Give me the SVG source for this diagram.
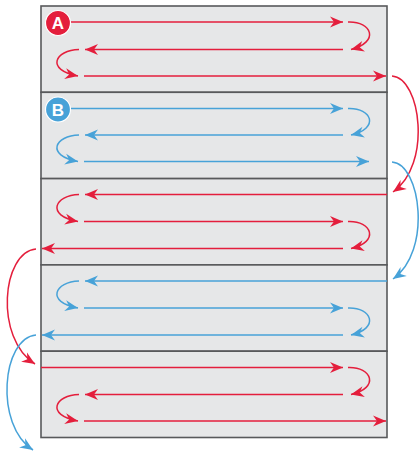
<svg xmlns="http://www.w3.org/2000/svg" width="419" height="455" viewBox="0 0 419 455">
<style>
.panel{fill:#e6e7e8;stroke:#58595b;stroke-width:1.6}
.r{fill:none;stroke:#e41e3c;stroke-width:1.5}
.b{fill:none;stroke:#47a2d8;stroke-width:1.5}
.r.a{marker-end:url(#ar)}
.b.a{marker-end:url(#ab)}
.badge{stroke:#ffffff;stroke-width:1.2}
.lbl{font-family:"Liberation Sans",Arial,sans-serif;font-weight:bold;font-size:17px;fill:#ffffff;text-anchor:middle}
</style>
<defs>
<marker id="ar" viewBox="-14 -6 15 12" markerWidth="15" markerHeight="12" refX="0" refY="0" orient="auto" markerUnits="userSpaceOnUse" overflow="visible">
<path d="M0,0 L-13,-5.5 L-9,0 L-13,5.5 Z" fill="#e41e3c"/>
</marker>
<marker id="ab" viewBox="-14 -6 15 12" markerWidth="15" markerHeight="12" refX="0" refY="0" orient="auto" markerUnits="userSpaceOnUse" overflow="visible">
<path d="M0,0 L-13,-5.5 L-9,0 L-13,5.5 Z" fill="#47a2d8"/>
</marker>
</defs>

<g id="panelA">
<rect class="panel" x="41" y="6" width="346" height="86.3"/>
<path class="r a" d="M71,22 H343"/>
<path class="r a" d="M348,22 C372,21 380,42 351,49.5"/>
<path class="r a" d="M343,49.5 H85"/>
<path class="r a" d="M79,49.5 C55,50 45,70 78,76"/>
<path class="r a" d="M84,76 H386"/>
<circle class="badge" cx="58" cy="23" r="12.5" fill="#e41e3c"/>
<text class="lbl" x="58" y="29">A</text>
</g>

<g id="panelB">
<rect class="panel" x="41" y="92.3" width="346" height="86.3"/>
<path class="b a" d="M71,108.5 H343"/>
<path class="b a" d="M348,108.5 C372,107.5 380,128.5 351,135"/>
<path class="b a" d="M343,135 H85"/>
<path class="b a" d="M79,135 C55,135.5 45,155.5 78,161.5"/>
<path class="b a" d="M84,161.5 H369"/>
<circle class="badge" cx="58" cy="109.5" r="12.5" fill="#47a2d8"/>
<text class="lbl" x="58" y="115.5">B</text>
</g>

<g id="panelC">
<rect class="panel" x="41" y="178.6" width="346" height="86.3"/>
<path class="r a" d="M387,194.5 H85"/>
<path class="r a" d="M79,194.5 C55,195 45,215.5 78,221.5"/>
<path class="r a" d="M84,221.5 H343"/>
<path class="r a" d="M348,221.5 C372,220.5 380,242 351,248.5"/>
<path class="r a" d="M343,248.5 H42"/>
</g>

<g id="panelD">
<rect class="panel" x="41" y="264.9" width="346" height="86.3"/>
<path class="b a" d="M387,281 H85"/>
<path class="b a" d="M79,281 C55,281.5 45,302 78,308"/>
<path class="b a" d="M84,308 H343"/>
<path class="b a" d="M348,308 C372,307 380,328.5 351,335"/>
<path class="b a" d="M343,335 H42"/>
</g>

<g id="panelE">
<rect class="panel" x="41" y="351.2" width="346" height="86.3"/>
<path class="r a" d="M41,367.5 H343"/>
<path class="r a" d="M348,367.5 C372,366.5 380,388 351,394.5"/>
<path class="r a" d="M343,394.5 H85"/>
<path class="r a" d="M79,394.5 C55,395 45,415 78,421"/>
<path class="r a" d="M84,421 H386"/>
</g>

<g id="connectors">
<path class="r a" d="M392,76 C421,78 432,165 393,192"/>
<path class="b a" d="M392,162 C421,164 432,252 393,279"/>
<path class="r a" d="M36,249 C2,252 -6,338 35,364"/>
<path class="b a" d="M36,335 C2,338 -6,425 33,450"/>
</g>
</svg>
